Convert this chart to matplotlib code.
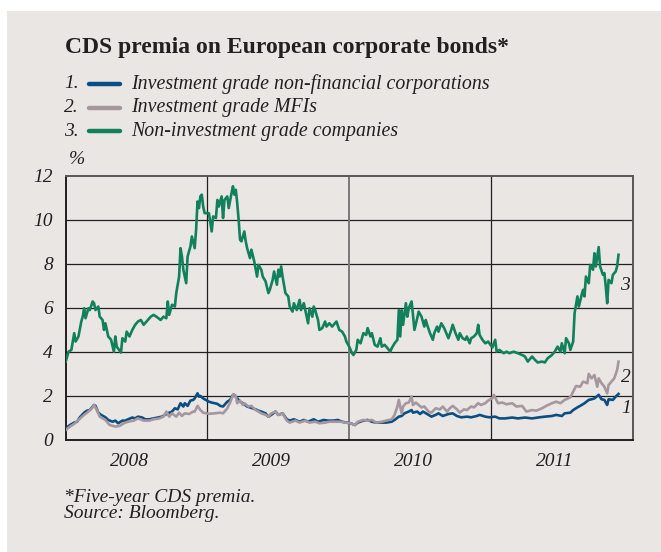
import matplotlib
matplotlib.use("Agg")
import matplotlib.pyplot as plt
from matplotlib.lines import Line2D
from matplotlib.patches import Rectangle

# CDS premia on European corporate bonds, five-year, % (x in decimal years)
green_t = [2008.00, 2008.02, 2008.04, 2008.06, 2008.07, 2008.09, 2008.11, 2008.12, 2008.13, 2008.14,
           2008.16, 2008.17, 2008.19, 2008.20, 2008.21, 2008.23, 2008.24, 2008.26, 2008.27, 2008.28,
           2008.30, 2008.32, 2008.34, 2008.35, 2008.36, 2008.39, 2008.40, 2008.42, 2008.43, 2008.45,
           2008.47, 2008.49, 2008.51, 2008.53, 2008.55, 2008.57, 2008.60, 2008.62, 2008.64, 2008.67,
           2008.69, 2008.71, 2008.72, 2008.73, 2008.75, 2008.77, 2008.78, 2008.80, 2008.81, 2008.82,
           2008.83, 2008.85, 2008.86, 2008.88, 2008.89, 2008.91, 2008.92, 2008.93, 2008.94, 2008.95,
           2008.96, 2008.97, 2008.98, 2009.01, 2009.03, 2009.04, 2009.06, 2009.07, 2009.08, 2009.10,
           2009.11, 2009.12, 2009.14, 2009.15, 2009.17, 2009.18, 2009.19, 2009.20, 2009.21, 2009.22,
           2009.23, 2009.24, 2009.26, 2009.27, 2009.28, 2009.30, 2009.31, 2009.33, 2009.35, 2009.36,
           2009.38, 2009.39, 2009.41, 2009.43, 2009.44, 2009.46, 2009.47, 2009.49, 2009.50, 2009.51,
           2009.52, 2009.53, 2009.55, 2009.57, 2009.58, 2009.60, 2009.61, 2009.63, 2009.65, 2009.66,
           2009.68, 2009.69, 2009.71, 2009.72, 2009.74, 2009.75, 2009.76, 2009.78, 2009.79, 2009.81,
           2009.83, 2009.84, 2009.86, 2009.88, 2009.90, 2009.91, 2009.93, 2009.95, 2009.97, 2009.98,
           2010.00, 2010.02, 2010.03, 2010.05, 2010.06, 2010.08, 2010.10, 2010.12, 2010.13, 2010.15,
           2010.16, 2010.18, 2010.20, 2010.22, 2010.23, 2010.25, 2010.27, 2010.29, 2010.30, 2010.32,
           2010.34, 2010.35, 2010.36, 2010.37, 2010.38, 2010.40, 2010.41, 2010.42, 2010.44, 2010.45,
           2010.46, 2010.48, 2010.49, 2010.51, 2010.53, 2010.54, 2010.55, 2010.57, 2010.59, 2010.60,
           2010.62, 2010.63, 2010.65, 2010.67, 2010.69, 2010.70, 2010.72, 2010.73, 2010.75, 2010.77,
           2010.78, 2010.80, 2010.82, 2010.83, 2010.85, 2010.86, 2010.88, 2010.90, 2010.91, 2010.92,
           2010.94, 2010.96, 2010.98, 2011.01, 2011.03, 2011.04, 2011.06, 2011.09, 2011.11, 2011.13,
           2011.16, 2011.19, 2011.22, 2011.24, 2011.26, 2011.29, 2011.31, 2011.33, 2011.36, 2011.38,
           2011.40, 2011.43, 2011.45, 2011.47, 2011.49, 2011.50, 2011.52, 2011.53, 2011.55, 2011.56,
           2011.58, 2011.59, 2011.61, 2011.62, 2011.64, 2011.65, 2011.66, 2011.67, 2011.69, 2011.70,
           2011.72, 2011.73, 2011.74, 2011.76, 2011.77, 2011.79, 2011.80, 2011.81, 2011.82, 2011.83,
           2011.85, 2011.86, 2011.88, 2011.89, 2011.90]
green_v = [3.56, 4.01, 4.09, 4.85, 4.47, 4.70, 5.38, 5.60, 5.98, 5.53,
           5.98, 5.90, 6.29, 6.21, 5.90, 6.06, 5.60, 5.45, 5.00, 5.30,
           4.70, 4.55, 4.01, 4.70, 4.24, 3.97, 4.62, 4.47, 4.92, 4.70,
           5.00, 5.23, 5.38, 5.45, 5.23, 5.38, 5.60, 5.68, 5.60, 5.45,
           5.60, 5.53, 6.29, 5.68, 6.14, 6.06, 6.67, 7.42, 8.71, 8.33,
           7.73, 7.12, 8.33, 8.79, 9.24, 8.71, 9.55, 10.83, 10.53, 11.06,
           11.14, 10.60, 10.30, 10.30, 9.47, 10.15, 10.08, 10.90, 10.60, 11.06,
           10.08, 10.90, 11.06, 10.53, 11.21, 11.52, 11.14, 11.36, 10.76, 10.00,
           9.09, 9.02, 9.47, 9.02, 8.71, 8.26, 8.64, 8.11, 7.42, 7.95,
           7.73, 7.42, 7.20, 6.67, 6.82, 7.27, 7.65, 7.05, 7.73, 7.42,
           7.88, 7.42, 6.67, 6.52, 6.06, 5.83, 6.21, 5.90, 6.36, 5.90,
           6.21, 5.90, 5.30, 5.98, 5.60, 6.06, 5.90, 5.45, 5.00, 5.08,
           5.38, 5.15, 5.30, 5.15, 5.30, 5.38, 5.00, 4.92, 4.70, 4.47,
           4.24, 3.94, 3.86, 4.09, 4.55, 4.39, 4.85, 4.77, 5.08, 4.70,
           4.85, 4.32, 4.24, 4.62, 4.24, 4.32, 4.17, 4.01, 4.17, 4.39,
           4.55, 5.90, 4.70, 5.90, 5.23, 6.21, 5.60, 5.98, 6.29, 5.68,
           5.00, 5.53, 5.83, 5.60, 5.15, 5.45, 5.23, 4.85, 4.55, 4.85,
           5.15, 4.92, 5.30, 5.08, 4.77, 4.62, 5.00, 5.23, 4.85, 4.55,
           4.85, 4.62, 4.55, 4.70, 4.39, 4.62, 4.70, 4.85, 5.23, 4.77,
           4.55, 4.39, 4.47, 4.20, 4.55, 4.01, 4.09, 3.94, 4.01, 3.94,
           4.01, 3.94, 3.86, 3.79, 3.56, 3.79, 3.64, 3.52, 3.56, 3.52,
           3.71, 3.86, 4.01, 4.24, 4.01, 4.39, 3.94, 4.62, 4.39, 4.09,
           4.47, 5.76, 6.52, 6.06, 6.59, 6.82, 6.52, 7.42, 7.12, 7.95,
           7.73, 8.48, 7.88, 8.76, 7.88, 7.50, 7.58, 6.97, 6.21, 7.27,
           7.12, 7.50, 7.65, 7.88, 8.41]

blue_t = [2008.00, 2008.03, 2008.06, 2008.08, 2008.10, 2008.13, 2008.15, 2008.17, 2008.20, 2008.21,
          2008.23, 2008.25, 2008.28, 2008.30, 2008.33, 2008.35, 2008.37, 2008.40, 2008.42, 2008.44,
          2008.47, 2008.49, 2008.51, 2008.54, 2008.56, 2008.59, 2008.62, 2008.66, 2008.68, 2008.70,
          2008.72, 2008.75, 2008.77, 2008.79, 2008.81, 2008.83, 2008.84, 2008.86, 2008.88, 2008.90,
          2008.91, 2008.93, 2008.94, 2008.95, 2008.97, 2008.98, 2009.01, 2009.03, 2009.07, 2009.09,
          2009.11, 2009.14, 2009.16, 2009.18, 2009.19, 2009.21, 2009.23, 2009.25, 2009.28, 2009.30,
          2009.34, 2009.36, 2009.38, 2009.41, 2009.43, 2009.45, 2009.48, 2009.50, 2009.53, 2009.56,
          2009.58, 2009.61, 2009.65, 2009.68, 2009.71, 2009.75, 2009.78, 2009.82, 2009.85, 2009.89,
          2009.92, 2009.95, 2009.98, 2010.01, 2010.04, 2010.06, 2010.10, 2010.13, 2010.16, 2010.19,
          2010.23, 2010.26, 2010.30, 2010.32, 2010.35, 2010.37, 2010.39, 2010.42, 2010.44, 2010.45,
          2010.48, 2010.50, 2010.52, 2010.55, 2010.58, 2010.61, 2010.63, 2010.66, 2010.70, 2010.73,
          2010.76, 2010.79, 2010.83, 2010.86, 2010.90, 2010.92, 2010.96, 2010.99, 2011.03, 2011.06,
          2011.10, 2011.15, 2011.19, 2011.24, 2011.29, 2011.33, 2011.38, 2011.43, 2011.46, 2011.50,
          2011.52, 2011.56, 2011.58, 2011.61, 2011.64, 2011.66, 2011.69, 2011.71, 2011.73, 2011.76,
          2011.78, 2011.80, 2011.82, 2011.83, 2011.86, 2011.88, 2011.90]
blue_v = [0.53, 0.68, 0.79, 0.83, 1.03, 1.24, 1.33, 1.36, 1.59, 1.55,
          1.24, 1.14, 1.03, 0.91, 0.83, 0.88, 0.76, 0.88, 0.88, 0.94,
          1.02, 0.98, 1.06, 1.02, 0.94, 0.94, 0.98, 1.03, 1.06, 1.14,
          1.21, 1.29, 1.44, 1.39, 1.67, 1.52, 1.67, 1.55, 1.79, 1.82,
          1.89, 2.12, 1.97, 2.00, 1.89, 1.85, 1.74, 1.70, 1.64, 1.55,
          1.52, 1.74, 1.82, 2.05, 2.05, 1.89, 1.74, 1.67, 1.52, 1.48,
          1.39, 1.33, 1.29, 1.21, 1.06, 1.14, 1.29, 1.14, 1.21, 0.94,
          0.88, 0.94, 0.83, 0.91, 0.83, 0.94, 0.83, 0.91, 0.88, 0.88,
          0.91, 0.83, 0.79, 0.76, 0.68, 0.79, 0.88, 0.91, 0.83, 0.79,
          0.79, 0.79, 0.83, 0.91, 1.06, 1.09, 1.21, 1.29, 1.36, 1.24,
          1.29, 1.18, 1.29, 1.18, 1.06, 1.14, 1.21, 1.09, 1.18, 1.21,
          1.09, 1.03, 1.06, 1.03, 1.09, 1.14, 1.06, 1.03, 1.06, 0.98,
          0.98, 1.02, 0.98, 1.02, 0.98, 1.02, 1.06, 1.09, 1.14, 1.09,
          1.21, 1.24, 1.36, 1.48, 1.59, 1.67, 1.82, 1.85, 1.89, 2.05,
          1.85, 1.82, 1.59, 1.85, 1.82, 1.97, 2.09]

grey_t = [2008.00, 2008.03, 2008.06, 2008.09, 2008.13, 2008.16, 2008.19, 2008.20, 2008.22, 2008.24,
          2008.28, 2008.31, 2008.35, 2008.38, 2008.41, 2008.44, 2008.48, 2008.51, 2008.55, 2008.59,
          2008.62, 2008.66, 2008.69, 2008.71, 2008.73, 2008.75, 2008.78, 2008.80, 2008.82, 2008.84,
          2008.87, 2008.90, 2008.91, 2008.93, 2008.95, 2008.97, 2009.01, 2009.05, 2009.09, 2009.11,
          2009.14, 2009.16, 2009.18, 2009.20, 2009.21, 2009.23, 2009.25, 2009.26, 2009.29, 2009.31,
          2009.34, 2009.36, 2009.38, 2009.41, 2009.43, 2009.45, 2009.48, 2009.50, 2009.53, 2009.56,
          2009.58, 2009.62, 2009.65, 2009.69, 2009.72, 2009.76, 2009.79, 2009.83, 2009.86, 2009.90,
          2009.94, 2009.97, 2010.01, 2010.04, 2010.06, 2010.10, 2010.13, 2010.16, 2010.19, 2010.23,
          2010.26, 2010.30, 2010.32, 2010.34, 2010.35, 2010.37, 2010.38, 2010.40, 2010.42, 2010.44,
          2010.45, 2010.47, 2010.49, 2010.51, 2010.53, 2010.56, 2010.58, 2010.61, 2010.64, 2010.66,
          2010.69, 2010.71, 2010.73, 2010.76, 2010.78, 2010.81, 2010.83, 2010.86, 2010.88, 2010.91,
          2010.93, 2010.96, 2010.98, 2011.01, 2011.02, 2011.05, 2011.08, 2011.11, 2011.15, 2011.18,
          2011.22, 2011.25, 2011.29, 2011.32, 2011.36, 2011.39, 2011.43, 2011.46, 2011.49, 2011.52,
          2011.56, 2011.58, 2011.60, 2011.63, 2011.65, 2011.68, 2011.69, 2011.71, 2011.73, 2011.75,
          2011.76, 2011.78, 2011.80, 2011.82, 2011.83, 2011.85, 2011.87, 2011.89, 2011.90]
grey_v = [0.45, 0.61, 0.73, 0.91, 1.14, 1.29, 1.48, 1.59, 1.36, 1.06,
          0.91, 0.68, 0.61, 0.64, 0.76, 0.83, 0.88, 0.98, 0.88, 0.88,
          0.94, 0.98, 1.06, 1.29, 1.06, 1.21, 1.06, 1.24, 1.09, 1.21,
          1.18, 1.29, 1.29, 1.55, 1.36, 1.24, 1.19, 1.21, 1.24, 1.21,
          1.44, 1.70, 2.05, 2.00, 1.67, 1.79, 1.59, 1.67, 1.52, 1.55,
          1.36, 1.29, 1.21, 1.14, 1.06, 1.21, 1.29, 1.14, 1.21, 0.88,
          0.79, 0.88, 0.79, 0.88, 0.79, 0.83, 0.76, 0.79, 0.83, 0.83,
          0.83, 0.79, 0.76, 0.68, 0.83, 0.91, 0.88, 0.91, 0.79, 0.83,
          0.88, 0.94, 1.14, 1.52, 1.82, 1.21, 1.52, 1.67, 1.70, 1.97,
          1.59, 1.70, 1.59, 1.48, 1.52, 1.29, 1.24, 1.44, 1.39, 1.52,
          1.29, 1.44, 1.55, 1.39, 1.24, 1.39, 1.36, 1.52, 1.48, 1.67,
          1.59, 1.67, 1.79, 1.89, 2.05, 1.67, 1.70, 1.62, 1.67, 1.52,
          1.55, 1.29, 1.36, 1.33, 1.44, 1.55, 1.67, 1.74, 1.67, 1.82,
          1.94, 2.20, 2.45, 2.42, 2.65, 2.58, 3.00, 2.80, 2.95, 2.42,
          2.80, 2.58, 2.42, 2.12, 2.50, 2.65, 2.80, 3.18, 3.56]

years = [2008, 2009, 2010, 2011]
year_labels = ["2008", "2009", "2010", "2011"]
y_ticks = [0, 2, 4, 6, 8, 10, 12]

legend_items = ["Investment grade non-financial corporations",
                "Investment grade MFIs",
                "Non-investment grade companies"]

bg = "#e9e6e3"
c_blue = "#0b4e83"
c_grey = "#a6979f"
c_green = "#11805c"
ink = "#231f20"

plt.rcParams["font.family"] = ["Liberation Serif", "DejaVu Serif"]

W, H = 661, 552
fig = plt.figure(figsize=(W / 100, H / 100), dpi=100)
fig.patch.set_facecolor("white")
fig.add_artist(Rectangle((7 / W, 0), 1, 1 - 11 / H, transform=fig.transFigure,
                         facecolor=bg, edgecolor="none", zorder=0))


def fx(px):
    return px / W


def fy(py):
    return 1 - py / H


# title and legend block
fig.text(fx(65), fy(48), "CDS premia on European corporate bonds*", fontsize=17,
         weight="bold", color=ink, va="center", ha="left")
for i, (lab, col) in enumerate(zip(legend_items, [c_blue, c_grey, c_green])):
    yy = fy(84 + i * 23.5)
    fig.text(fx(64), yy, f"{i + 1}.", fontsize=14, style="italic", color=ink, va="center")
    fig.add_artist(Line2D([fx(89), fx(120)], [yy, yy], color=col, lw=3.2,
                          solid_capstyle="round", transform=fig.transFigure))
    fig.text(fx(131), yy, lab, fontsize=14.3, style="italic", color=ink, va="center")

ax = fig.add_axes([fx(65.7), fy(440), (632.7 - 65.7) / W, (440 - 175.7) / H])
ax.set_facecolor(bg)

ax.plot(green_t, green_v, color=c_green, lw=1.9, zorder=3)
ax.plot(blue_t, blue_v, color=c_blue, lw=1.9, zorder=3)
ax.plot(grey_t, grey_v, color=c_grey, lw=1.9, zorder=4)

ax.set_xlim(2008, 2012)
ax.set_ylim(0, 12)

for y in y_ticks[1:-1]:
    ax.axhline(y, color=ink, lw=0.9, zorder=1)
ax.axvline(2009, color=ink, lw=0.9, zorder=1)
ax.axvline(2010, color="#7d7878", lw=1.4, zorder=1)
ax.axvline(2011, color=ink, lw=0.9, zorder=1)

for side in ["top", "right"]:
    ax.spines[side].set_color("#5a5657")
    ax.spines[side].set_linewidth(1.4)
for side in ["left", "bottom"]:
    ax.spines[side].set_color(ink)
    ax.spines[side].set_linewidth(1.4)

ax.set_yticks(y_ticks)
ax.set_yticklabels([str(v) for v in y_ticks], fontsize=14, style="italic", color=ink)
ax.set_xticks([y + 0.45 for y in years])
ax.set_xticklabels(year_labels, fontsize=14, style="italic", color=ink)
ax.tick_params(axis="y", length=0, pad=9)
ax.tick_params(axis="x", length=0, pad=9)

ax.text(2008.02, 12.35, "%", fontsize=14, style="italic", color=ink, va="bottom")

# series numbers at the right end
ax.text(2011.91, 7.0, "3", fontsize=14, style="italic", color=ink, va="center")
ax.text(2011.92, 2.85, "2", fontsize=14, style="italic", color=ink, va="center")
ax.text(2011.92, 1.45, "1", fontsize=14, style="italic", color=ink, va="center")

fig.text(fx(64), fy(497), "*Five-year CDS premia.", fontsize=14, style="italic",
         color=ink, va="center")
fig.text(fx(64), fy(514), "Source: Bloomberg.", fontsize=14, style="italic",
         color=ink, va="center")

fig.savefig("out.png", dpi=100, facecolor=fig.get_facecolor())
